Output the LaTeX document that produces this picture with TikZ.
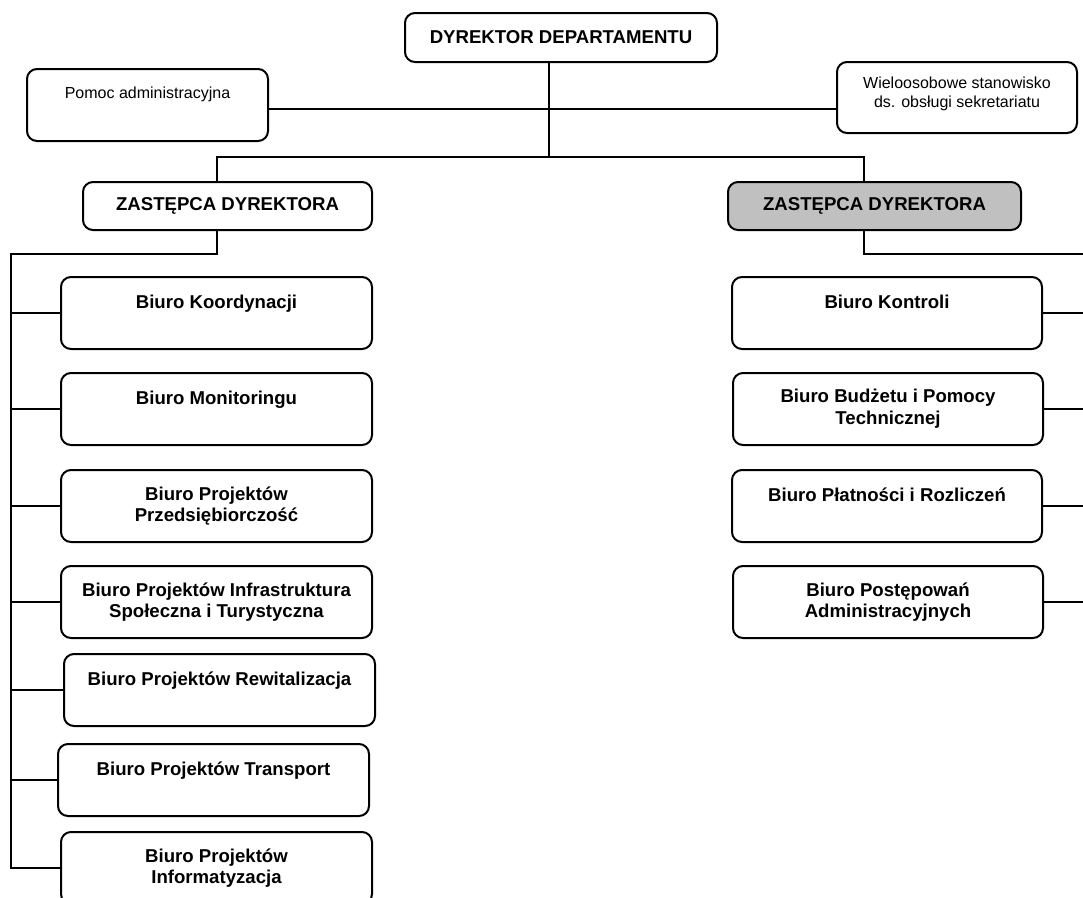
\documentclass[tikz,border=0pt]{standalone}
\usepackage{fontspec}
\setmainfont{Liberation Sans}
\definecolor{deputygray}{RGB}{192,192,192}
\begin{document}
\begin{tikzpicture}[x=1pt,y=-1pt,
  unit/.style={draw=black,line width=2pt,rounded corners=10pt,fill=white,
    align=center,inner sep=0pt,font=\fontsize{18.6}{21.7}\selectfont\bfseries},
  post/.style={unit,font=\fontsize{16}{19}\selectfont},
  office/.style={unit,minimum width=311pt,minimum height=72pt},
  deputy/.style={unit,minimum height=48pt},
  link/.style={line width=2pt,line cap=rect}]
\useasboundingbox[fill=white] (0,0) rectangle (1083,897);

% management
\node[unit,minimum width=312pt,minimum height=49pt] (dyr) at (561,37.5) {DYREKTOR DEPARTAMENTU};
\node[post,minimum width=241pt,minimum height=72pt] (pomoc) at (147.5,105) {Pomoc administracyjna\\[5pt]\mbox{}};
\node[post,minimum width=240pt,minimum height=71pt] (wielo) at (957,97.5) {Wieloosobowe stanowisko\\ds. obsługi sekretariatu\\[-9pt]\mbox{}};
\node[deputy,minimum width=289pt] (zl) at (227.5,206) {ZASTĘPCA DYREKTORA};
\node[deputy,minimum width=293pt,fill=deputygray] (zp) at (874.5,206) {ZASTĘPCA DYREKTORA};

% offices under the first deputy
\node[office] (k1) at (216.5,313) {Biuro Koordynacji\\\mbox{}};
\node[office] (k2) at (216.5,409) {Biuro Monitoringu\\\mbox{}};
\node[office] (k3) at (216.5,506) {Biuro Projektów\\Przedsiębiorczość};
\node[office] (k4) at (216.5,602) {Biuro Projektów Infrastruktura\\Społeczna i Turystyczna};
\node[office] (k5) at (219.5,690) {Biuro Projektów Rewitalizacja\\\mbox{}};
\node[office] (k6) at (213.5,780) {Biuro Projektów Transport\\\mbox{}};
\node[office] (k7) at (216.5,868) {Biuro Projektów\\Informatyzacja};

% offices under the second deputy
\node[office,minimum width=310pt] (r1) at (887,313) {Biuro Kontroli\\\mbox{}};
\node[office,minimum width=310pt] (r2) at (888,409) {Biuro Budżetu i Pomocy\\Technicznej};
\node[office,minimum width=310pt] (r3) at (887,506) {Biuro Płatności i Rozliczeń\\\mbox{}};
\node[office,minimum width=310pt] (r4) at (888,602) {Biuro Postępowań\\Administracyjnych};

% junction points of the connector tree
\coordinate (mid) at (549,109);
\coordinate (top) at (549,157);
\coordinate (zlx) at (217,157);
\coordinate (zpx) at (864,157);
\coordinate (ls) at (11,254);
\coordinate (lb) at (11,868);
\coordinate (rs) at (1084,254);

% connectors
\draw[link] (dyr.south -| top) -- (top);
\draw[link] (pomoc.east |- mid) -- (wielo.west |- mid);
\draw[link] (zl.north -| zlx) -- (zlx) -- (zpx) -- (zp.north -| zpx);
\draw[link] (zl.south -| zlx) |- (ls) -- (lb);
\foreach \k in {k1,k2,k3,k4,k5,k6,k7}
  \draw[link] (\k.west) -- (\k.west -| ls);
\draw[link] (zp.south -| zpx) |- (rs);
\foreach \r in {r1,r2,r3,r4}
  \draw[link] (\r.east) -- (\r.east -| rs);
\end{tikzpicture}
\end{document}
